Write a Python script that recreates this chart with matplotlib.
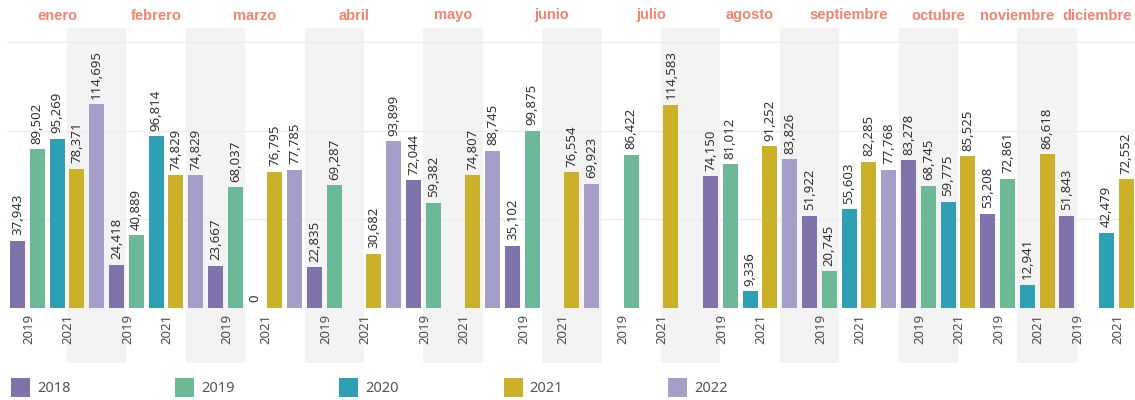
import matplotlib.pyplot as plt
from matplotlib.patches import Rectangle
from matplotlib.transforms import blended_transform_factory

plt.rcParams['font.family'] = ['Noto Sans', 'DejaVu Sans']

months = ['enero', 'febrero', 'marzo', 'abril', 'mayo', 'junio', 'julio',
          'agosto', 'septiembre', 'octubre', 'noviembre', 'diciembre']
years = ['2018', '2019', '2020', '2021', '2022']
# number of year columns shown for each month (2022 not yet there from octubre)
years_per_month = [5, 5, 5, 5, 5, 5, 5, 5, 5, 4, 4, 4]

v2018 = [37.943, 24.418, 23.667, 22.835, 72.044, 35.102, None, 74.150, 51.922, 83.278, 53.208, 51.843]
v2019 = [89.502, 40.889, 68.037, 69.287, 59.382, 99.875, 86.422, 81.012, 20.745, 68.745, 72.861, None]
v2020 = [95.269, 96.814, 0, None, None, None, None, 9.336, 55.603, 59.775, 12.941, 42.479]
v2021 = [78.371, 74.829, 76.795, 30.682, 74.807, 76.554, 114.583, 91.252, 82.285, 85.525, 86.618, 72.552]
v2022 = [114.695, 74.829, 77.785, 93.899, 88.745, 69.923, None, 83.826, 77.768, None, None, None]
values = [v2018, v2019, v2020, v2021, v2022]

axis_ticks = ['2019', '2021']

colors = ['#8073ac', '#6db897', '#2fa0b4', '#cbb12a', '#a59ec9']

fig = plt.figure(figsize=(11.35, 4), dpi=100)
ax = fig.add_axes([0, 0.23, 1, 0.70])
ax.set_xlim(-0.884, 56.44)
ax.set_ylim(0, 157.8)
for s in ax.spines.values():
    s.set_visible(False)
ax.set_yticks([])

trans = blended_transform_factory(ax.transData, ax.transAxes)

# alternating bands (every 6 columns, 3 wide)
for j in range(9):
    ax.add_patch(Rectangle((2.5 + 6 * j, -0.196), 3, 1.196, transform=trans,
                           color='#f3f3f3', zorder=0, clip_on=False, lw=0))

for g in [50, 100, 150]:
    ax.axhline(g, xmin=0.006, color='#ededed', lw=1, zorder=1)

pos = 0
tick_pos, tick_lab = [], []
for m, month in enumerate(months):
    start = pos
    for y in range(years_per_month[m]):
        v = values[y][m]
        if v is not None:
            ax.bar(pos, v, width=0.76, color=colors[y], zorder=2)
            lab = '0' if v == 0 else f'{v:.3f}'.replace('.', ',')
            ax.annotate(lab, (pos, v), xytext=(0, 4), textcoords='offset points',
                        rotation=90, ha='center', va='bottom', fontsize=9.5,
                        color='#333333', zorder=3)
        pos += 1
    center = (start + pos - 1) / 2
    ax.annotate(month, (center, 1), xycoords=trans, xytext=(0, 9),
                textcoords='offset points', ha='center', va='center',
                fontsize=10.5, fontweight='bold', color='#f3836b',
                family=['Liberation Sans', 'DejaVu Sans'])
    for t in axis_ticks:
        tick_pos.append(start + 0.55 + 2 * axis_ticks.index(t))
        tick_lab.append(t)

ax.set_xticks(tick_pos, tick_lab, rotation=90, fontsize=9.5, color='#4d4d4d')
ax.tick_params(axis='x', length=0, pad=4)

# legend
for i, (yr, c) in enumerate(zip(years, colors)):
    x0 = 11 + 164.2 * i
    fig.add_artist(Rectangle((x0 / 1135, 3 / 400), 19 / 1135, 19 / 400,
                             transform=fig.transFigure, color=c, lw=0))
    fig.text((x0 + 26) / 1135, 12 / 400, yr, fontsize=10.5, color='#555555',
             va='center', ha='left')

fig.savefig('out.png', dpi=100)
